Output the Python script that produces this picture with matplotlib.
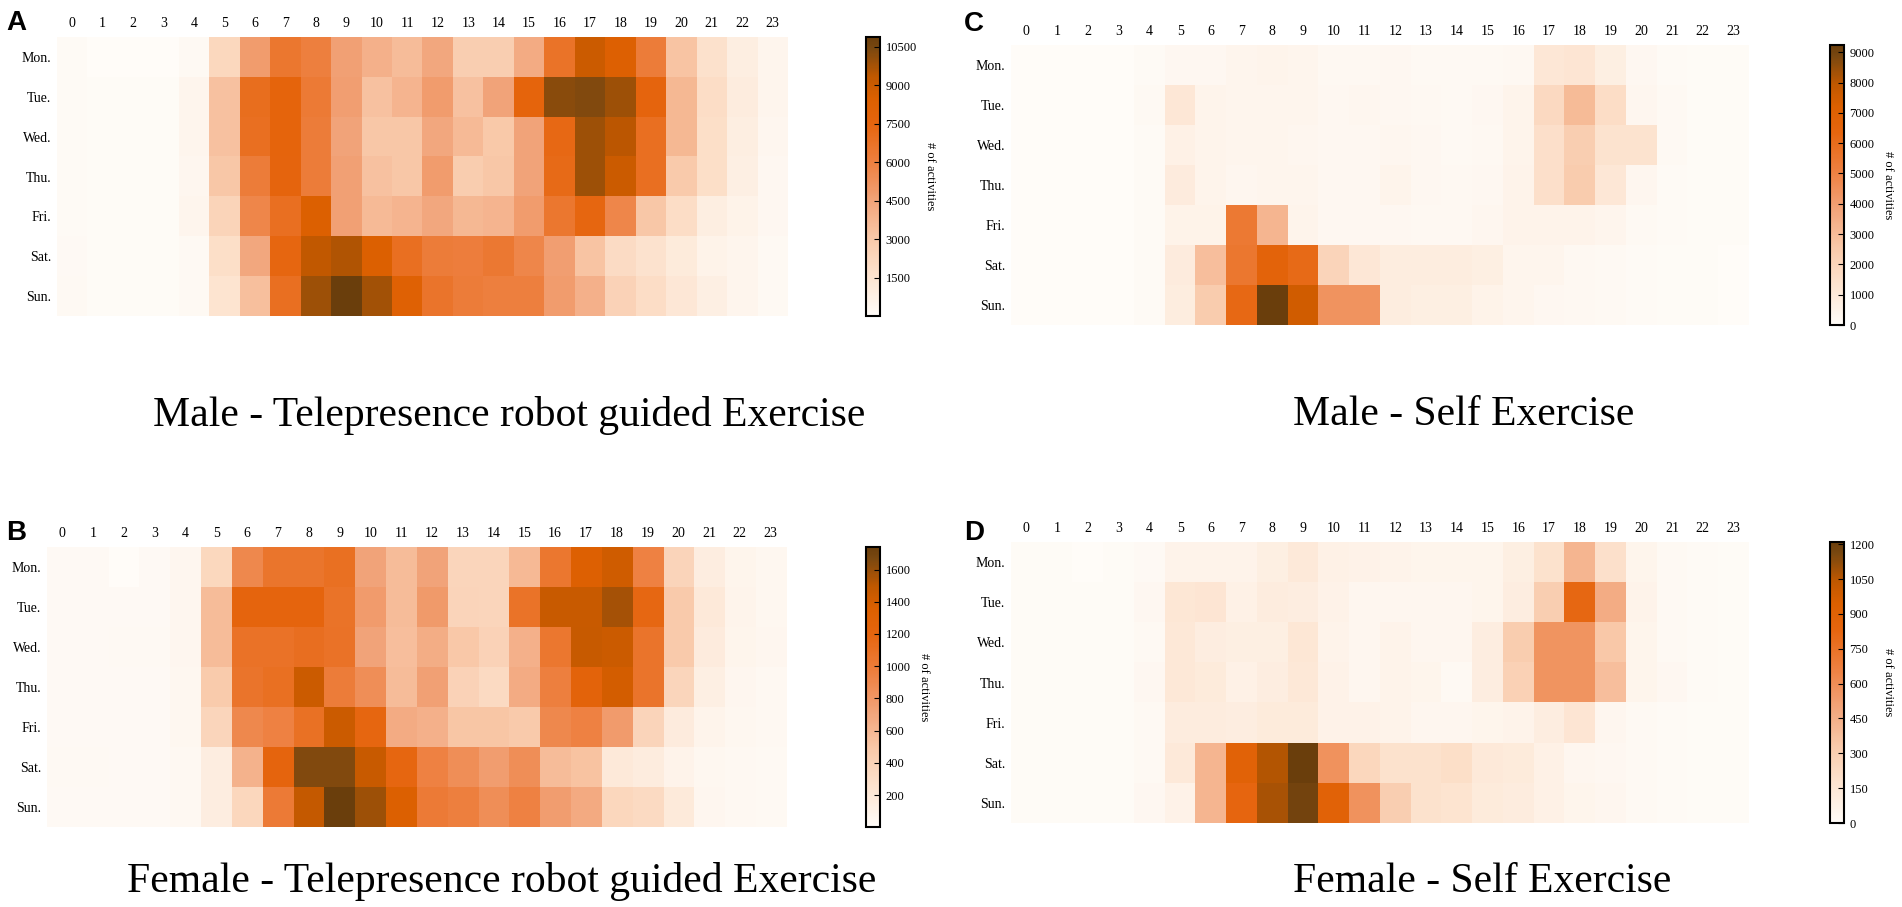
import numpy as np
import matplotlib
matplotlib.use("Agg")
from matplotlib import pyplot as plt
from matplotlib.colors import LinearSegmentedColormap

W, H = 1902, 907

hours = [str(h) for h in range(24)]
days = ['Mon.', 'Tue.', 'Wed.', 'Thu.', 'Fri.', 'Sat.', 'Sun.']

# Male - telepresence robot guided
male_robot = [
    [100, 50, 10, 50, 200, 2200, 4800, 6500, 6000, 4600, 4000, 3500, 4300, 2700, 2700, 4200, 6700, 9000, 8300, 6200, 3200, 1700, 900, 400],
    [120, 60, 60, 60, 400, 3300, 7000, 7600, 6300, 4700, 3300, 3800, 4800, 3300, 4500, 7600, 10200, 10300, 9900, 7500, 3700, 1900, 1000, 400],
    [100, 60, 60, 60, 400, 3300, 6900, 7600, 6200, 4500, 3100, 3100, 4300, 3600, 3000, 4500, 7300, 9900, 9400, 6900, 3700, 1800, 900, 350],
    [100, 60, 60, 60, 350, 3100, 6200, 7500, 6200, 4600, 3300, 3100, 4800, 2800, 3100, 4500, 7200, 9900, 9000, 6900, 2900, 1800, 800, 300],
    [100, 60, 60, 60, 400, 2400, 5700, 6900, 8400, 4600, 3600, 3800, 4300, 3700, 3800, 4800, 6500, 7400, 5700, 3100, 1900, 900, 600, 300],
    [150, 60, 60, 60, 200, 1800, 4300, 7400, 9300, 9600, 8400, 6900, 6200, 6100, 6400, 5700, 4700, 3200, 2000, 1600, 1100, 600, 400, 200],
    [200, 80, 80, 80, 200, 1500, 3400, 6900, 9900, 10880, 9800, 8200, 6600, 6200, 6000, 6000, 4800, 4000, 2500, 1900, 1300, 800, 400, 200],
]

# Female - telepresence robot guided
female_robot = [
    [25, 25, 2, 25, 60, 350, 900, 1050, 1050, 1100, 720, 560, 720, 370, 370, 580, 1040, 1330, 1420, 950, 380, 150, 70, 50],
    [25, 25, 25, 25, 60, 560, 1200, 1200, 1200, 1070, 770, 560, 780, 380, 370, 1070, 1450, 1450, 1560, 1180, 470, 190, 80, 50],
    [25, 25, 35, 35, 60, 560, 1080, 1080, 1110, 1080, 720, 550, 660, 490, 400, 640, 1040, 1460, 1440, 1060, 470, 170, 70, 60],
    [25, 25, 25, 25, 50, 460, 1060, 1100, 1440, 990, 860, 560, 740, 400, 330, 670, 960, 1240, 1400, 1060, 370, 130, 60, 40],
    [25, 25, 25, 25, 50, 370, 900, 950, 1090, 1440, 1190, 670, 640, 500, 500, 470, 900, 950, 770, 380, 170, 80, 50, 40],
    [35, 35, 25, 25, 40, 150, 620, 1200, 1650, 1650, 1450, 1190, 950, 860, 760, 860, 560, 520, 190, 160, 90, 50, 40, 30],
    [25, 25, 25, 25, 40, 150, 360, 1000, 1470, 1740, 1580, 1340, 1000, 960, 860, 950, 760, 680, 360, 330, 180, 60, 40, 30],
]

# Male - self exercise
male_self = [
    [30, 30, 30, 30, 80, 250, 250, 350, 400, 350, 200, 200, 250, 150, 150, 150, 200, 1100, 1200, 700, 250, 100, 60, 40],
    [30, 30, 30, 30, 150, 1100, 400, 350, 350, 350, 250, 300, 250, 200, 150, 250, 400, 1800, 3000, 1600, 300, 150, 60, 40],
    [30, 30, 30, 30, 100, 600, 400, 350, 350, 300, 250, 250, 300, 250, 150, 200, 400, 1500, 2300, 1300, 1300, 150, 60, 40],
    [30, 30, 30, 30, 100, 900, 400, 300, 350, 350, 250, 250, 400, 250, 200, 250, 450, 1500, 2400, 1100, 300, 100, 50, 40],
    [30, 30, 30, 30, 100, 500, 500, 5400, 3200, 400, 250, 250, 250, 200, 200, 300, 450, 450, 450, 350, 150, 80, 50, 40],
    [30, 30, 0, 30, 100, 900, 2900, 5500, 6600, 6100, 2000, 1100, 800, 800, 800, 700, 350, 350, 200, 150, 100, 60, 40, 30],
    [30, 30, 30, 30, 100, 800, 2400, 6200, 9240, 7500, 4400, 4400, 800, 700, 700, 500, 350, 250, 200, 150, 100, 60, 40, 30],
]

# Female - self exercise
female_self = [
    [5, 5, 0, 5, 15, 60, 60, 60, 90, 130, 80, 70, 60, 50, 50, 50, 90, 180, 420, 190, 50, 20, 10, 5],
    [5, 5, 5, 5, 30, 150, 160, 80, 110, 100, 70, 40, 40, 40, 40, 50, 100, 300, 820, 460, 60, 20, 10, 5],
    [5, 5, 5, 5, 20, 140, 100, 90, 90, 150, 60, 40, 60, 40, 40, 100, 310, 570, 570, 340, 50, 20, 10, 5],
    [5, 5, 5, 5, 30, 140, 120, 80, 100, 140, 70, 40, 60, 50, 20, 100, 280, 570, 570, 380, 50, 30, 10, 5],
    [5, 5, 5, 5, 20, 110, 110, 100, 120, 120, 70, 70, 60, 40, 40, 50, 60, 100, 160, 40, 20, 10, 5, 5],
    [5, 5, 5, 5, 20, 130, 420, 880, 1060, 1210, 580, 250, 180, 180, 200, 130, 120, 80, 40, 30, 20, 10, 5, 5],
    [5, 5, 5, 5, 30, 70, 420, 830, 1080, 1180, 880, 580, 300, 180, 170, 120, 110, 80, 50, 40, 20, 10, 5, 5],
]

titles = ['Male - Telepresence robot guided Exercise',
          'Female - Telepresence robot guided Exercise',
          'Male - Self Exercise',
          'Female - Self Exercise']
letters = ['A', 'B', 'C', 'D']
cbar_ticks = [np.arange(1500, 10501, 1500),
              np.arange(200, 1601, 200),
              np.arange(0, 9001, 1000),
              np.arange(0, 1201, 150)]

cmap = LinearSegmentedColormap.from_list('act', [
    (0.00, '#fffcf8'),
    (0.14, '#fde4d0'),
    (0.28, '#f9c8a8'),
    (0.41, '#f2a47a'),
    (0.55, '#ee8040'),
    (0.69, '#e6650e'),
    (0.78, '#dc6000'),
    (0.86, '#c05800'),
    (0.96, '#7a4810'),
    (1.00, '#6a3e0c'),
])

SERIF = 'Liberation Serif'

# pixel boxes: heatmap (x0, y0, x1, y1), colorbar x0, title (x, baseline), letter (x, baseline)
layout = [
    dict(hm=(57, 37, 788, 316), cb=866, title=(153, 426), letter=(6, 30)),
    dict(hm=(47, 547, 786, 827), cb=866, title=(127, 892), letter=(6, 540)),
    dict(hm=(1011, 45, 1749, 325), cb=1830, title=(1293, 425), letter=(964, 31)),
    dict(hm=(1011, 542, 1749, 823), cb=1830, title=(1293, 892), letter=(964, 540)),
]

fig = plt.figure(figsize=(W / 100, H / 100), dpi=100)

datasets = [male_robot, female_robot, male_self, female_self]
for i, data in enumerate(datasets):
    lay = layout[i]
    x0, y0, x1, y1 = lay['hm']
    ax = fig.add_axes([x0 / W, 1 - y1 / H, (x1 - x0) / W, (y1 - y0) / H])
    im = ax.imshow(np.array(data), cmap=cmap, aspect='auto', interpolation='nearest')
    ax.set_xticks(range(len(hours)))
    ax.set_xticklabels(hours, family=SERIF)
    ax.xaxis.tick_top()
    ax.set_yticks(range(len(days)))
    ax.set_yticklabels(days, family=SERIF)
    ax.tick_params(length=0, labelsize=10)
    ax.tick_params(axis='x', pad=5)
    ax.tick_params(axis='y', pad=4)
    for s in ax.spines.values():
        s.set_visible(False)

    cax = fig.add_axes([lay['cb'] / W, 1 - y1 / H, 14 / W, (y1 - y0) / H])
    cb = fig.colorbar(im, cax=cax, ticks=cbar_ticks[i])
    cb.ax.tick_params(direction='in', length=4, width=0.8, labelsize=9, pad=4)
    for lbl in cb.ax.get_yticklabels():
        lbl.set_family(SERIF)
    cb.outline.set_linewidth(1.5)
    cb.set_label('# of activities', rotation=270, labelpad=14, fontsize=9, family=SERIF)

    tx, ty = lay['title']
    fig.text(tx / W, 1 - ty / H, titles[i], fontsize=30, family=SERIF,
             ha='left', va='baseline')
    lx, ly = lay['letter']
    fig.text(lx / W, 1 - ly / H, letters[i], fontsize=20, weight='bold',
             family='Liberation Sans', ha='left', va='baseline')

fig.savefig('out.png', dpi=100)
